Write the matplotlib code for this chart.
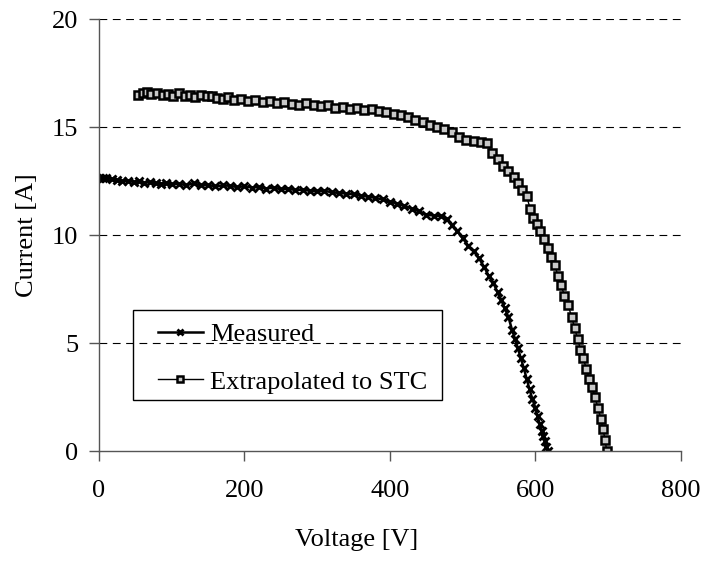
import matplotlib.pyplot as plt
from matplotlib.patches import Rectangle

plt.rcParams['font.family'] = ['Liberation Serif', 'DejaVu Serif']

# measured I-V curve
v_meas = [0, 5, 10, 18, 25, 32, 40, 48, 55, 62, 70, 78, 85, 92, 100, 110, 120, 130,
          140, 150, 160, 170, 180, 190, 200, 210, 220, 230, 240, 250, 260, 270, 280,
          290, 300, 310, 320, 330, 340, 350, 360, 370, 380, 390, 400, 410, 420, 430,
          440, 450, 460, 470, 478, 485, 492, 500, 508, 515, 522, 530, 536, 542, 548,
          553, 558, 563, 568, 572, 576, 580, 584, 588, 592, 596, 600, 603, 606, 609,
          611, 613, 615, 617]
i_meas = [12.65, 12.64, 12.62, 12.6, 12.55, 12.5, 12.52, 12.45, 12.5, 12.42, 12.45,
          12.4, 12.38, 12.42, 12.35, 12.38, 12.3, 12.4, 12.3, 12.32, 12.25, 12.3, 12.28,
          12.22, 12.26, 12.2, 12.22, 12.15, 12.2, 12.12, 12.15, 12.08, 12.1, 12.05,
          12.02, 12.05, 11.98, 11.95, 11.92, 11.88, 11.82, 11.78, 11.72, 11.65, 11.55,
          11.45, 11.35, 11.22, 11.1, 10.95, 10.9, 10.88, 10.75, 10.45, 10.2, 9.85, 9.5,
          9.25, 8.95, 8.5, 8.1, 7.8, 7.35, 7.0, 6.6, 6.2, 5.6, 5.2, 4.75, 4.3, 3.85,
          3.35, 2.85, 2.4, 2.0, 1.6, 1.25, 0.95, 0.7, 0.45, 0.2, 0.0]

# extrapolated to STC
v_stc = [54, 60, 66, 72, 80, 88, 95, 102, 110, 118, 125, 132, 140, 148, 155, 162, 170,
         178, 186, 195, 205, 215, 225, 235, 245, 255, 265, 275, 285, 295, 305, 315, 325,
         335, 345, 355, 365, 375, 385, 395, 405, 415, 425, 435, 445, 455, 465, 475, 485,
         495, 505, 515, 525, 533, 540, 548, 555, 562, 570, 576, 582, 588, 593, 597, 602,
         607, 612, 617, 622, 627, 631, 635, 640, 645, 650, 654, 658, 662, 666, 670, 674,
         678, 682, 686, 690, 693, 696, 698]
i_stc = [16.48, 16.6, 16.62, 16.55, 16.6, 16.5, 16.55, 16.45, 16.58, 16.45, 16.5, 16.4,
         16.48, 16.42, 16.45, 16.35, 16.3, 16.38, 16.25, 16.3, 16.2, 16.25, 16.15, 16.2,
         16.12, 16.18, 16.08, 16.02, 16.1, 16.0, 15.98, 16.02, 15.9, 15.95, 15.85, 15.88,
         15.8, 15.82, 15.75, 15.7, 15.6, 15.55, 15.45, 15.35, 15.25, 15.1, 15.0, 14.9,
         14.75, 14.55, 14.4, 14.35, 14.3, 14.25, 13.8, 13.5, 13.2, 12.95, 12.7, 12.4,
         12.1, 11.8, 11.2, 10.8, 10.5, 10.2, 9.8, 9.4, 9.0, 8.6, 8.1, 7.7, 7.2, 6.75,
         6.2, 5.7, 5.2, 4.7, 4.3, 3.8, 3.35, 2.95, 2.5, 2.0, 1.5, 1.0, 0.5, 0.0]

fig = plt.figure(figsize=(7.07, 5.61), dpi=100)
ax = fig.add_axes([0.140, 0.196, 0.823, 0.770])

ax.plot(v_meas, i_meas, color='black', lw=1.8, marker='x', ms=5.5, mew=2.0,
        label='Measured')
ax.plot(v_stc, i_stc, color='black', lw=1.0, marker='s', ms=6, mew=1.8,
        mfc='#c8c8c8', mec='black', label='Extrapolated to STC')

ax.set_xlim(0, 800)
ax.set_ylim(0, 20)
ax.set_xticks([0, 200, 400, 600, 800])
ax.set_yticks([0, 5, 10, 15, 20])
for y in [5, 10, 15, 20]:
    ax.axhline(y, color='black', lw=0.8, ls=(0, (7, 5)), zorder=0)

for s in ['top', 'right']:
    ax.spines[s].set_visible(False)
for s in ['left', 'bottom']:
    ax.spines[s].set_color('#555555')
    ax.spines[s].set_linewidth(1.0)
ax.tick_params(direction='out', length=7, width=1.0, color='#555555',
               labelsize=19)
ax.tick_params(axis='x', pad=14)
ax.tick_params(axis='y', pad=8)

ax.set_xlabel('Voltage [V]', fontsize=19)
ax.set_ylabel('Current [A]', fontsize=19)
ax.xaxis.set_label_coords(0.443, -0.181)
ax.yaxis.set_label_coords(-0.105, 0.5)

leg = ax.legend(loc='upper left', bbox_to_anchor=(0.101, 0.298), fontsize=19,
                frameon=False, handlelength=1.7, handletextpad=0.27,
                borderpad=0, borderaxespad=0, labelspacing=0.92, markerscale=0.75)
# legend frame
ax.add_patch(Rectangle((0.0584, 0.118), 0.531, 0.208, transform=ax.transAxes,
                       fill=False, edgecolor='black', lw=1.0, zorder=5))

fig.savefig('out.png', dpi=100)
